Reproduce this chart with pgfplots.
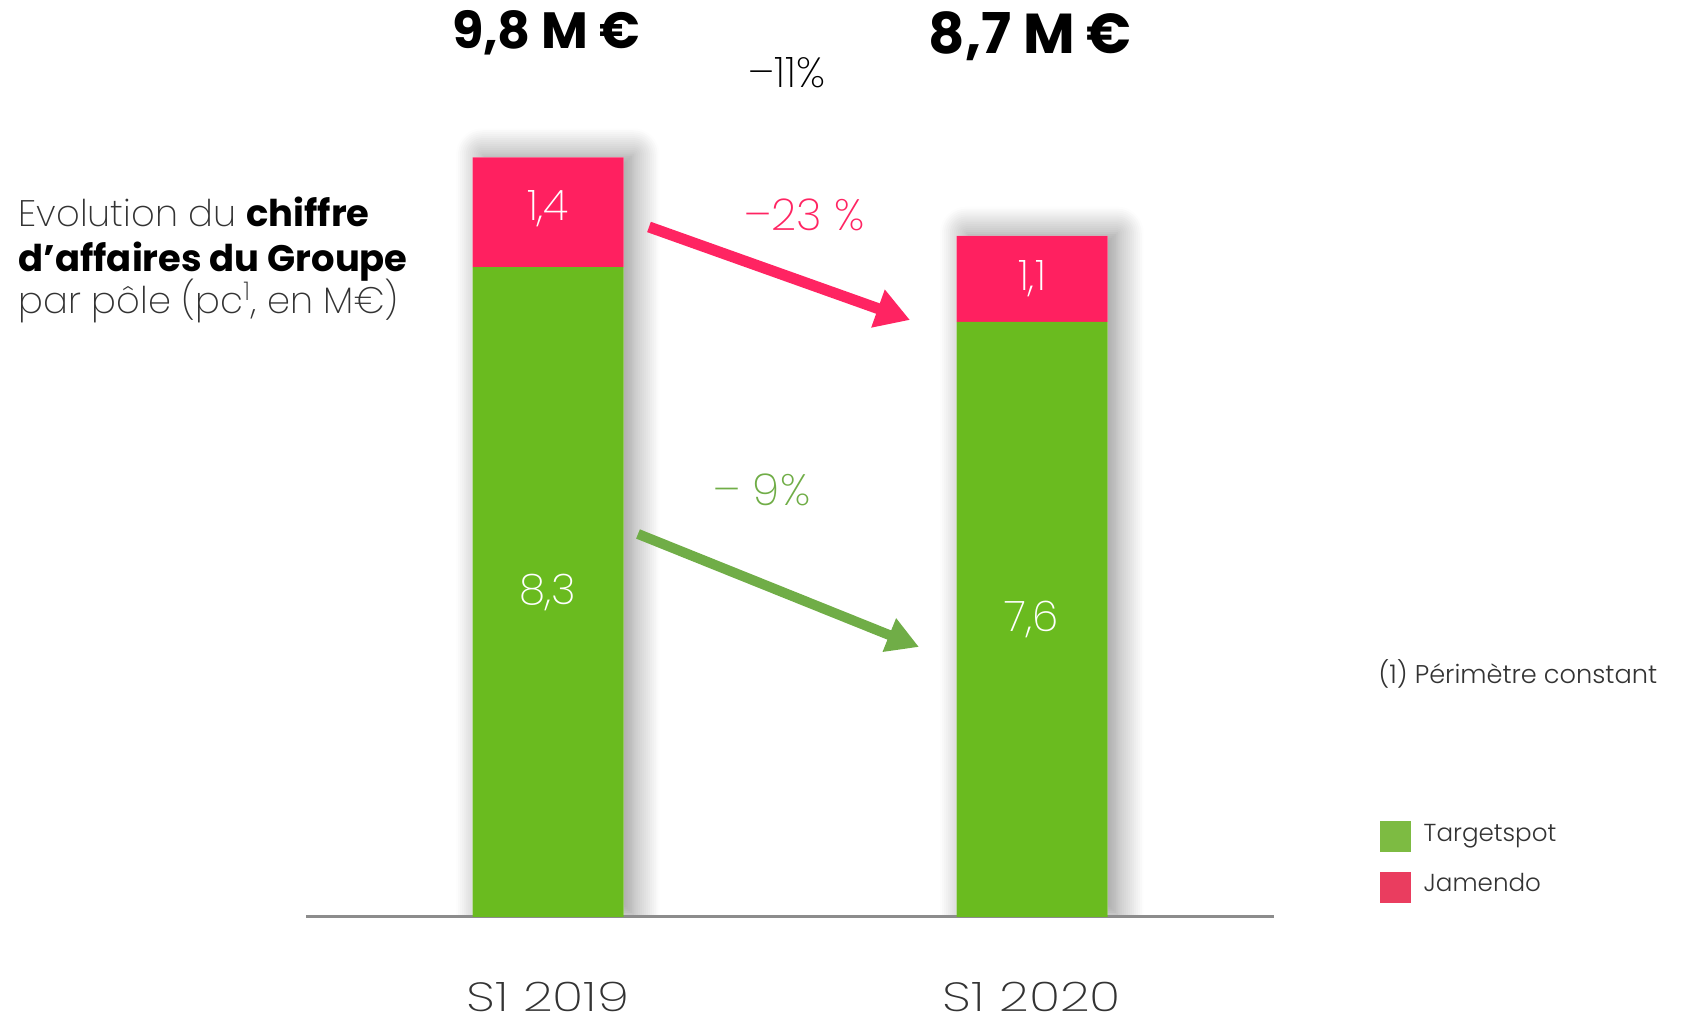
\documentclass[border=0pt]{standalone}
\usepackage{fontspec}
\setmainfont{Poppins}
\newfontfamily\plight{Poppins Light}
\newfontfamily\pthin{Poppins ExtraLight}
\newfontfamily\pwide[FakeStretch=1.27]{Poppins ExtraLight}
\usepackage{pgfplots}
\pgfplotsset{compat=1.18}
\usetikzlibrary{arrows.meta,shadows.blur}

\definecolor{tsgreen}{HTML}{6ABB1F}
\definecolor{jmpink}{HTML}{FF2060}
\definecolor{lggreen}{HTML}{7DBB42}
\definecolor{lgpink}{HTML}{EA3D5F}
\definecolor{arrgreen}{HTML}{70AD47}
\definecolor{arrpink}{HTML}{FF2462}
\definecolor{axisgray}{HTML}{8C8C8C}
\definecolor{textgray}{HTML}{333333}

\tikzset{barval/.style={text=white, font=\pthin\fontsize{12}{14}\selectfont},
  small/.style={anchor=west, inner sep=0pt, text=textgray, font=\plight\fontsize{7}{9}\selectfont},
  ttl/.style={anchor=base west, inner sep=0pt, font=\fontsize{10.5}{12.5}\selectfont}}

\begin{document}
\begin{tikzpicture}[x=1cm,y=1cm]
\useasboundingbox (0,0) rectangle (16.82,10.23);

\pgfplotsset{base/.style={
  at={(3.06cm,1.06cm)}, anchor=south west,
  scale only axis, width=9.68cm, height=7.83cm,
  xmin=-0.5, xmax=1.5, ymin=0, ymax=10,
  bar width=1.51cm}}

% shadows behind the bars (clipped at the base line, same y scale)
\begin{axis}[base, ybar, hide axis, ymax=12, height=9.396cm]
\addplot[fill=white, draw=none,
  blur shadow={shadow xshift=2.8pt, shadow yshift=0.8pt,
    shadow blur radius=7.5pt, shadow blur steps=14, shadow opacity=45}]
  coordinates {(0,9.7) (1,8.7)};
\end{axis}

\begin{axis}[base, ybar stacked, clip=false,
  axis x line*=bottom, hide y axis,
  x axis line style={draw=axisgray, line width=0.3mm},
  xtick={0,1}, xticklabels={S1 2019, S1 2020},
  xtick style={draw=none},
  xticklabel style={font=\pwide\fontsize{11.6}{13}\selectfont,
    text=textgray, inner sep=0pt, yshift=-6.4mm}]
\addplot[fill=tsgreen, draw=none] coordinates {(0,8.3) (1,7.6)};
\addplot[fill=jmpink, draw=none] coordinates {(0,1.4) (1,1.1)};
\coordinate (a1) at (axis cs:0,4.15);
\coordinate (b1) at (axis cs:0,9.05);
\coordinate (a2) at (axis cs:1,3.8);
\coordinate (b2) at (axis cs:1,8.15);
\end{axis}

% segment values
\node[barval] at (a1) {8,3};
\node[barval] at (b1) {1,4};
\node[barval] at (a2) {7,6};
\node[barval] at (b2) {1,1};

% totals and changes
\node[font=\bfseries\fontsize{14.5}{16}\selectfont] at (5.46,9.90) {9,8 M €};
\node[font=\bfseries\fontsize{16}{18}\selectfont] at (10.30,9.87) {8,7 M €};
\node[font=\pthin\fontsize{12}{14}\selectfont] at (7.87,9.50) {–11\%};
\node[text=arrpink, font=\pthin\fontsize{12.5}{15}\selectfont] at (8.05,8.08) {–23 \%};
\node[text=arrgreen, font=\pthin\fontsize{12.5}{15}\selectfont] at (7.62,5.33) {– 9\%};

\draw[arrpink, line width=1.1mm, -{Triangle[length=3.4mm,width=3.8mm]}]
  (6.49,7.96) -- (9.10,7.03);
\draw[arrgreen, line width=1mm, -{Triangle[length=3.2mm,width=3.4mm]}]
  (6.38,4.89) -- (9.19,3.76);

% title block
\node[ttl] at (0.18,7.96) {{\pthin\color{textgray}Evolution du} \textbf{chiffre}};
\node[ttl] at (0.18,7.51) {\textbf{d’affaires du Groupe}};
\node[ttl] at (0.18,7.09) {\pthin\color{textgray}par pôle (pc\textsuperscript{1}, en M€)};

% note and legend
\node[small, font=\plight\fontsize{7.3}{9}\selectfont] at (13.78,3.49) {(1) Périmètre constant};
\fill[lggreen] (13.80,1.71) rectangle (14.11,2.02);
\fill[lgpink] (13.80,1.20) rectangle (14.11,1.51);
\node[small] at (14.23,1.87) {Targetspot};
\node[small] at (14.23,1.40) {Jamendo};
\end{tikzpicture}
\end{document}
